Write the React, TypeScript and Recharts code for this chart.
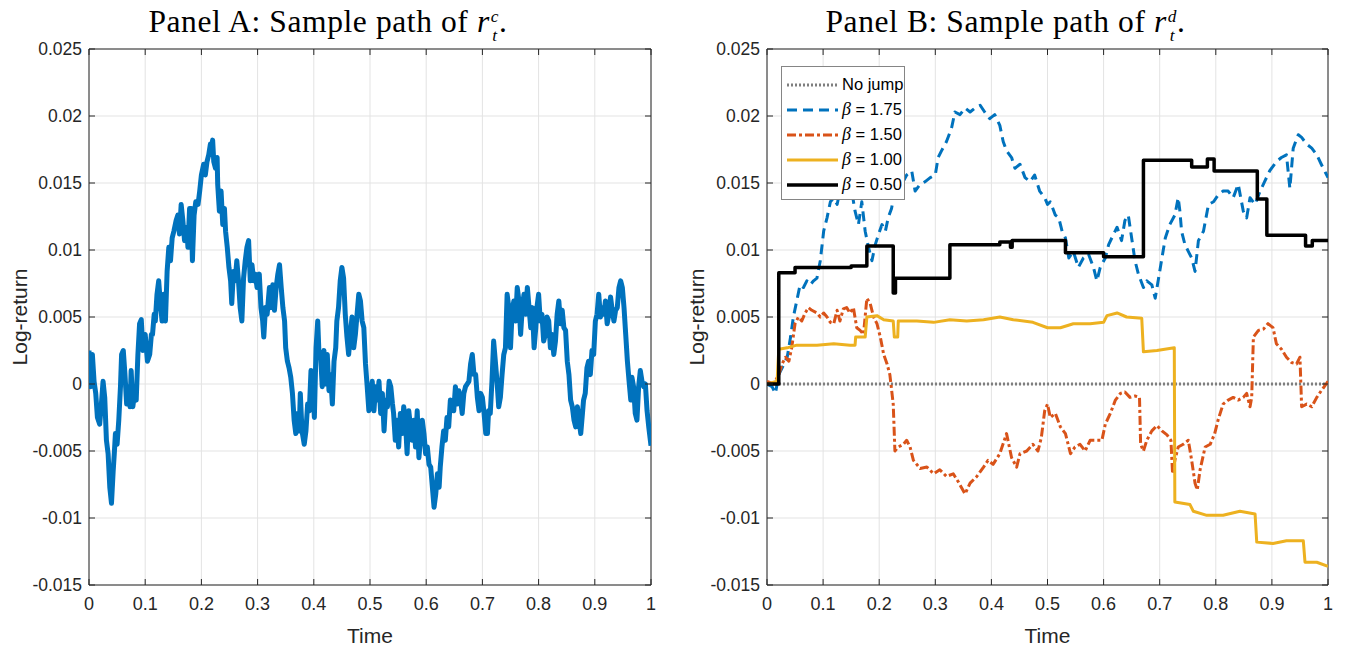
import { LineChart, Line, XAxis, YAxis, CartesianGrid, ReferenceArea, Legend } from 'recharts'

const timeTicks = [0, 0.1, 0.2, 0.3, 0.4, 0.5, 0.6, 0.7, 0.8, 0.9, 1]
const returnTicks = [-0.015, -0.01, -0.005, 0, 0.005, 0.01, 0.015, 0.02, 0.025]

// Panel A: continuous part [time, log-return]
const continuousPath = [
  [0, 0.0025], [0.003, -0.0002], [0.006, 0.0022], [0.009, 0.0002], [0.012, -0.0007], [0.015, -0.0025],
  [0.019, -0.003], [0.022, -0.0015], [0.025, 0.0002], [0.028, -0.001], [0.031, -0.0042], [0.034, -0.0052],
  [0.037, -0.0077], [0.04, -0.0089], [0.043, -0.0065], [0.045, -0.0052], [0.047, -0.0037], [0.05, -0.0045],
  [0.053, -0.0027], [0.056, -0.0002], [0.058, 0.0022], [0.061, 0.0025], [0.064, 0.0007], [0.067, -0.0015],
  [0.07, -0.0002], [0.073, -0.0017], [0.075, 0.001], [0.078, -0.0017], [0.081, -0.0007], [0.084, -0.0012],
  [0.087, 0.0022], [0.09, 0.0045], [0.093, 0.0048], [0.096, 0.0025], [0.1, 0.0037], [0.104, 0.0017],
  [0.108, 0.0022], [0.111, 0.0037], [0.113, 0.0037], [0.116, 0.0052], [0.118, 0.0047], [0.121, 0.0067],
  [0.124, 0.0077], [0.127, 0.006], [0.13, 0.0047], [0.133, 0.0067], [0.136, 0.0047], [0.139, 0.0084],
  [0.142, 0.0102], [0.145, 0.0092], [0.148, 0.0109], [0.151, 0.0114], [0.155, 0.0122], [0.158, 0.0126],
  [0.161, 0.0112], [0.164, 0.0134], [0.167, 0.0122], [0.17, 0.0107], [0.174, 0.0117], [0.176, 0.0102],
  [0.179, 0.0131], [0.182, 0.0131], [0.184, 0.0092], [0.187, 0.0126], [0.19, 0.0136], [0.194, 0.0134],
  [0.197, 0.0144], [0.2, 0.0156], [0.204, 0.0164], [0.207, 0.0156], [0.21, 0.0166], [0.213, 0.0171],
  [0.216, 0.0179], [0.217, 0.0174], [0.22, 0.0182], [0.222, 0.0166], [0.225, 0.0161], [0.228, 0.0169],
  [0.229, 0.0149], [0.232, 0.0129], [0.235, 0.0144], [0.238, 0.0119], [0.241, 0.0131], [0.243, 0.0114],
  [0.246, 0.0102], [0.249, 0.0087], [0.252, 0.0077], [0.254, 0.006], [0.257, 0.0084], [0.26, 0.0077],
  [0.263, 0.0092], [0.266, 0.0077], [0.269, 0.0057], [0.272, 0.0047], [0.275, 0.0079], [0.278, 0.0092],
  [0.281, 0.0102], [0.284, 0.0107], [0.287, 0.0077], [0.29, 0.0089], [0.293, 0.0077], [0.296, 0.0082],
  [0.299, 0.0072], [0.303, 0.0082], [0.306, 0.0057], [0.309, 0.0047], [0.311, 0.0035], [0.314, 0.0057],
  [0.317, 0.0052], [0.321, 0.0072], [0.324, 0.0057], [0.327, 0.0074], [0.33, 0.0055], [0.333, 0.0072],
  [0.336, 0.0082], [0.339, 0.0089], [0.342, 0.0072], [0.345, 0.0057], [0.348, 0.0047], [0.35, 0.0027],
  [0.353, 0.0017], [0.356, 0.0012], [0.359, 0.0005], [0.362, -0.0007], [0.365, -0.0027], [0.368, -0.0037],
  [0.371, -0.0022], [0.374, -0.0035], [0.376, -0.0007], [0.379, -0.0035], [0.383, -0.0045], [0.386, -0.0035],
  [0.389, -0.0015], [0.392, -0.002], [0.395, 0.001], [0.398, 0.0002], [0.401, -0.0025], [0.404, 0.0027],
  [0.407, 0.0047], [0.409, 0.0025], [0.412, 0.0022], [0.415, -0.0002], [0.418, 0.0025], [0.421, 0],
  [0.424, 0.0022], [0.427, -0.0005], [0.43, 0.0007], [0.433, -0.0015], [0.436, 0.0017], [0.439, 0.0027],
  [0.441, 0.0047], [0.444, 0.0057], [0.447, 0.0077], [0.45, 0.0087], [0.453, 0.0079], [0.456, 0.0052],
  [0.459, 0.0035], [0.462, 0.0022], [0.465, 0.0037], [0.468, 0.005], [0.471, 0.0027], [0.474, 0.0037],
  [0.477, 0.0052], [0.48, 0.0067], [0.483, 0.0062], [0.486, 0.0047], [0.489, 0.0042], [0.492, 0.0015],
  [0.495, -0.0002], [0.498, -0.002], [0.501, -0.0007], [0.504, 0.0002], [0.507, -0.002], [0.51, -0.0002],
  [0.513, -0.0012], [0.516, 0.0002], [0.519, -0.0022], [0.522, -0.0007], [0.525, -0.0035], [0.528, -0.0012],
  [0.531, -0.0017], [0.534, 0.0002], [0.537, -0.0002], [0.54, -0.0015], [0.542, -0.0022], [0.545, -0.0042],
  [0.548, -0.0027], [0.551, -0.0047], [0.554, -0.0022], [0.557, -0.0037], [0.56, -0.0017], [0.563, -0.0027],
  [0.566, -0.0052], [0.569, -0.002], [0.572, -0.0032], [0.575, -0.0042], [0.578, -0.0027], [0.581, -0.0047],
  [0.584, -0.002], [0.587, -0.0055], [0.59, -0.004], [0.593, -0.0027], [0.596, -0.0037], [0.599, -0.0052],
  [0.602, -0.0047], [0.605, -0.006], [0.608, -0.0062], [0.611, -0.0077], [0.614, -0.0092], [0.617, -0.0082],
  [0.62, -0.0067], [0.623, -0.0077], [0.625, -0.0062], [0.628, -0.0047], [0.631, -0.0035], [0.634, -0.0042],
  [0.637, -0.0025], [0.64, -0.0032], [0.643, -0.0012], [0.646, -0.0015], [0.649, -0.002], [0.652, -0.0002],
  [0.655, -0.0015], [0.658, -0.0005], [0.661, -0.001], [0.664, -0.0022], [0.667, -0.0007], [0.67, -0.0002],
  [0.673, 0], [0.676, 0.0002], [0.679, 0.0015], [0.682, 0.0022], [0.685, 0.0007], [0.688, 0.0007],
  [0.691, -0.001], [0.694, -0.002], [0.697, -0.0007], [0.7, -0.001], [0.703, -0.0022], [0.706, -0.0037],
  [0.709, -0.0037], [0.711, -0.002], [0.714, -0.0022], [0.717, 0.0002], [0.72, 0.0032], [0.723, 0.0017],
  [0.726, 0.0002], [0.729, -0.0017], [0.732, -0.001], [0.735, 0.0007], [0.738, 0.0022], [0.741, 0.0027],
  [0.744, 0.0067], [0.747, 0.0057], [0.75, 0.0027], [0.753, 0.0055], [0.756, 0.0062], [0.759, 0.0047],
  [0.762, 0.0072], [0.765, 0.0062], [0.768, 0.0037], [0.771, 0.0057], [0.774, 0.0067], [0.777, 0.0052],
  [0.78, 0.0072], [0.783, 0.0057], [0.786, 0.0042], [0.789, 0.0057], [0.792, 0.0027], [0.795, 0.0042],
  [0.797, 0.0057], [0.8, 0.0067], [0.803, 0.0047], [0.806, 0.0052], [0.809, 0.0032], [0.812, 0.0037],
  [0.815, 0.005], [0.818, 0.0047], [0.821, 0.0027], [0.824, 0.0037], [0.827, 0.0022], [0.83, 0.0032],
  [0.833, 0.0052], [0.836, 0.0062], [0.839, 0.0045], [0.842, 0.0055], [0.845, 0.0042], [0.848, 0.004],
  [0.851, 0.0017], [0.854, 0.0007], [0.857, -0.0012], [0.86, -0.0017], [0.863, -0.0027], [0.866, -0.0032],
  [0.869, -0.0017], [0.872, -0.0027], [0.875, -0.0037], [0.878, -0.0022], [0.88, -0.0012], [0.883, -0.0007],
  [0.886, 0.0012], [0.889, 0.0017], [0.892, 0.0007], [0.895, 0.0025], [0.898, 0.0022], [0.901, 0.0047],
  [0.904, 0.0052], [0.907, 0.0067], [0.91, 0.005], [0.913, 0.0057], [0.916, 0.0052], [0.919, 0.0062],
  [0.922, 0.0045], [0.925, 0.0052], [0.928, 0.0065], [0.931, 0.0055], [0.934, 0.0047], [0.937, 0.0055],
  [0.94, 0.0057], [0.943, 0.0072], [0.946, 0.0077], [0.949, 0.0072], [0.952, 0.0057], [0.955, 0.0037],
  [0.958, 0.0017], [0.961, 0.0002], [0.964, -0.0012], [0.966, 0.0005], [0.969, -0.0002], [0.972, -0.0022],
  [0.975, -0.0027], [0.978, -0.0002], [0.981, 0.001], [0.984, 0.0002], [0.987, -0.0002], [0.99, 0],
  [0.993, -0.002], [0.996, -0.0032], [1, -0.0046],
]

// Panel B: paths with jumps, one list per beta
const noJumpPath = [[0, 0], [1, 0]]

const beta175Path = [
  [0, 0], [0.009, -0.0002], [0.015, -0.0007], [0.021, 0.0007], [0.027, 0.0012], [0.036, 0.002],
  [0.042, 0.0035], [0.047, 0.005], [0.053, 0.0062], [0.059, 0.0074], [0.065, 0.0072], [0.071, 0.0077],
  [0.077, 0.0074], [0.083, 0.0077], [0.089, 0.0079], [0.095, 0.0092], [0.101, 0.0114], [0.107, 0.0124],
  [0.113, 0.0136], [0.119, 0.0139], [0.125, 0.0134], [0.13, 0.0144], [0.136, 0.0139], [0.145, 0.0149],
  [0.151, 0.0144], [0.157, 0.0129], [0.163, 0.0119], [0.169, 0.0136], [0.175, 0.0114], [0.181, 0.0102],
  [0.187, 0.0092], [0.193, 0.0104], [0.199, 0.0112], [0.205, 0.0119], [0.211, 0.0114], [0.216, 0.0124],
  [0.222, 0.0131], [0.228, 0.0144], [0.234, 0.0154], [0.24, 0.0149], [0.249, 0.0156], [0.258, 0.0159],
  [0.264, 0.0144], [0.273, 0.0149], [0.282, 0.0151], [0.291, 0.0154], [0.3, 0.0156], [0.305, 0.0169],
  [0.311, 0.0174], [0.32, 0.0181], [0.329, 0.0191], [0.335, 0.0203], [0.344, 0.0201], [0.353, 0.0206],
  [0.362, 0.0203], [0.371, 0.0206], [0.38, 0.0208], [0.388, 0.0203], [0.397, 0.0198], [0.406, 0.0201],
  [0.415, 0.0193], [0.421, 0.0181], [0.427, 0.0174], [0.436, 0.0169], [0.442, 0.0161], [0.451, 0.0164],
  [0.46, 0.0154], [0.469, 0.0151], [0.477, 0.0156], [0.486, 0.0144], [0.495, 0.0139], [0.5, 0.0134],
  [0.505, 0.0136], [0.514, 0.0126], [0.52, 0.0124], [0.526, 0.0114], [0.532, 0.0109], [0.538, 0.0094],
  [0.546, 0.0099], [0.555, 0.0087], [0.564, 0.0094], [0.573, 0.0097], [0.582, 0.0087], [0.588, 0.0077],
  [0.594, 0.0087], [0.603, 0.0094], [0.609, 0.0104], [0.618, 0.0112], [0.624, 0.0117], [0.632, 0.0107],
  [0.638, 0.0122], [0.644, 0.0126], [0.65, 0.0109], [0.656, 0.0092], [0.662, 0.0082], [0.671, 0.0072],
  [0.677, 0.0077], [0.686, 0.0074], [0.692, 0.0064], [0.698, 0.0079], [0.704, 0.0094], [0.71, 0.0109],
  [0.718, 0.0119], [0.727, 0.0126], [0.733, 0.0139], [0.736, 0.0129], [0.739, 0.0114], [0.745, 0.0104],
  [0.751, 0.0099], [0.757, 0.0094], [0.763, 0.0084], [0.769, 0.0107], [0.778, 0.0114], [0.787, 0.0134],
  [0.796, 0.0136], [0.804, 0.0141], [0.813, 0.0144], [0.822, 0.0144], [0.831, 0.0139], [0.84, 0.0149],
  [0.849, 0.0129], [0.855, 0.0124], [0.861, 0.0139], [0.87, 0.0134], [0.879, 0.0144], [0.887, 0.0151],
  [0.896, 0.0159], [0.908, 0.0166], [0.917, 0.0169], [0.926, 0.0171], [0.932, 0.0146], [0.938, 0.0176],
  [0.947, 0.0186], [0.953, 0.0184], [0.962, 0.0179], [0.971, 0.0176], [0.98, 0.0171], [0.988, 0.0164],
  [0.994, 0.0159], [1, 0.0154],
]

const beta150Path = [
  [0, 0.0002], [0.012, 0], [0.021, 0.0007], [0.027, 0.0015], [0.033, 0.002], [0.039, 0.0017],
  [0.044, 0.0027], [0.05, 0.0045], [0.056, 0.005], [0.062, 0.0047], [0.068, 0.0053], [0.074, 0.0057],
  [0.08, 0.0055], [0.089, 0.0053], [0.095, 0.005], [0.101, 0.0053], [0.107, 0.005], [0.113, 0.0046],
  [0.119, 0.0045], [0.125, 0.0055], [0.13, 0.0047], [0.136, 0.0056], [0.142, 0.0057], [0.148, 0.0053],
  [0.154, 0.0057], [0.16, 0.0042], [0.166, 0.004], [0.172, 0.0037], [0.178, 0.0064], [0.184, 0.006],
  [0.19, 0.005], [0.196, 0.0045], [0.202, 0.0035], [0.208, 0.0022], [0.214, 0.0015], [0.219, 0.0007],
  [0.225, -0.0015], [0.228, -0.005], [0.234, -0.0047], [0.243, -0.0045], [0.249, -0.0042], [0.255, -0.0047],
  [0.261, -0.0057], [0.273, -0.0063], [0.285, -0.0062], [0.297, -0.0067], [0.308, -0.0064], [0.32, -0.0069],
  [0.332, -0.0067], [0.341, -0.0073], [0.353, -0.0082], [0.362, -0.0074], [0.374, -0.0069], [0.386, -0.0062],
  [0.394, -0.0057], [0.403, -0.006], [0.415, -0.0052], [0.427, -0.0037], [0.436, -0.0055], [0.445, -0.0062],
  [0.451, -0.0052], [0.463, -0.005], [0.474, -0.0045], [0.483, -0.005], [0.489, -0.004], [0.495, -0.002],
  [0.5, -0.0015], [0.505, -0.0025], [0.514, -0.0022], [0.523, -0.0032], [0.532, -0.0037], [0.541, -0.0052],
  [0.549, -0.0047], [0.558, -0.0045], [0.567, -0.005], [0.576, -0.0042], [0.588, -0.0042], [0.597, -0.0042],
  [0.603, -0.003], [0.612, -0.0022], [0.621, -0.0012], [0.63, -0.0007], [0.638, -0.0006], [0.647, -0.001],
  [0.656, -0.0009], [0.664, -0.001], [0.666, -0.0045], [0.671, -0.005], [0.677, -0.0042], [0.686, -0.0035],
  [0.695, -0.0031], [0.704, -0.0035], [0.713, -0.0038], [0.72, -0.0042], [0.723, -0.0067], [0.727, -0.0057],
  [0.733, -0.0047], [0.742, -0.0045], [0.751, -0.0042], [0.757, -0.0057], [0.763, -0.0074], [0.767, -0.0079],
  [0.772, -0.0064], [0.781, -0.0047], [0.79, -0.0045], [0.798, -0.0037], [0.804, -0.0027], [0.813, -0.0015],
  [0.822, -0.0012], [0.831, -0.001], [0.84, -0.0012], [0.849, -0.001], [0.855, -0.0007], [0.861, -0.0017],
  [0.864, -0.001], [0.867, 0.0035], [0.876, 0.004], [0.885, 0.0041], [0.893, 0.0045], [0.902, 0.0042],
  [0.908, 0.003], [0.917, 0.0026], [0.926, 0.002], [0.935, 0.0016], [0.944, 0.0015], [0.95, 0.002],
  [0.953, -0.0017], [0.962, -0.0015], [0.971, -0.0017], [0.98, -0.001], [0.988, -0.0005], [1, 0.0002],
]

const beta100Path = [
  [0, 0], [0.018, 0.0002], [0.021, 0.0026], [0.036, 0.0027], [0.053, 0.0029], [0.089, 0.0029],
  [0.119, 0.003], [0.148, 0.0029], [0.157, 0.0029], [0.158, 0.0035], [0.175, 0.0035], [0.178, 0.005],
  [0.196, 0.0051], [0.208, 0.0048], [0.225, 0.0047], [0.227, 0.0035], [0.233, 0.0035], [0.234, 0.0047],
  [0.267, 0.0047], [0.297, 0.0046], [0.326, 0.0048], [0.356, 0.0047], [0.386, 0.0048], [0.415, 0.005],
  [0.439, 0.0048], [0.474, 0.0046], [0.5, 0.0042], [0.523, 0.0042], [0.546, 0.0045], [0.576, 0.0045],
  [0.6, 0.0046], [0.606, 0.0051], [0.624, 0.0053], [0.641, 0.005], [0.668, 0.0049], [0.671, 0.0024],
  [0.695, 0.0025], [0.726, 0.0027], [0.727, -0.0088], [0.754, -0.009], [0.76, -0.0095], [0.784, -0.0098],
  [0.813, -0.0098], [0.843, -0.0095], [0.87, -0.0097], [0.873, -0.0118], [0.902, -0.0119], [0.926, -0.0117],
  [0.956, -0.0117], [0.959, -0.0133], [0.98, -0.0133], [1, -0.0136],
]

const beta050Path = [
  [0, 0], [0.021, 0.0083], [0.05, 0.0087], [0.15, 0.0088], [0.178, 0.0103], [0.225, 0.0068],
  [0.229, 0.0079], [0.326, 0.0104], [0.415, 0.0106], [0.434, 0.0102], [0.437, 0.0107], [0.532, 0.0098],
  [0.6, 0.0095], [0.671, 0.0167], [0.757, 0.0162], [0.785, 0.0168], [0.797, 0.0159], [0.874, 0.0138],
  [0.891, 0.0111], [0.96, 0.0103], [0.972, 0.0107], [1, 0.0107],
]

const toRows = (pts: number[][]) => pts.map(([t, v]) => ({ t, v }))

const jumpSeries = [
  { key: 'nojump', beta: null, data: noJumpPath, color: '#7f7f7f', dash: '2 2', width: 3, type: 'linear' },
  { key: 'b175', beta: '1.75', data: beta175Path, color: '#0072BD', dash: '10 6', width: 3, type: 'linear' },
  { key: 'b150', beta: '1.50', data: beta150Path, color: '#D95319', dash: '9 3 3 3', width: 3, type: 'linear' },
  { key: 'b100', beta: '1.00', data: beta100Path, color: '#EDB120', dash: undefined, width: 3, type: 'linear' },
  { key: 'b050', beta: '0.50', data: beta050Path, color: '#000000', dash: undefined, width: 3.5, type: 'stepAfter' },
]

const AXIS = '#262626'
const GRID = '#e3e3e3'
const SANS = "'Liberation Sans', Arial, sans-serif"
const SERIF = "'Liberation Serif', 'DejaVu Serif', serif"

const CHART_W = 677
const CHART_H = 650
const PLOT_TOP = 49
const PLOT_H = 536

function TimeTick(props: any) {
  const { x, y, payload } = props
  const axisY = y - 12
  return (
    <g>
      <line x1={x} x2={x} y1={axisY} y2={axisY - 6} stroke={AXIS} />
      <line x1={x} x2={x} y1={axisY - PLOT_H} y2={axisY - PLOT_H + 6} stroke={AXIS} />
      <text x={x} y={y} dy="0.71em" textAnchor="middle" fill={AXIS} fontSize={18} fontFamily={SANS}>
        {payload.value}
      </text>
    </g>
  )
}

function ReturnTick(props: any) {
  const { x, y, payload, plotWidth } = props
  const axisX = x + 7
  return (
    <g>
      <line x1={axisX} x2={axisX + 6} y1={y} y2={y} stroke={AXIS} />
      <line x1={axisX + plotWidth} x2={axisX + plotWidth - 6} y1={y} y2={y} stroke={AXIS} />
      <text x={x} y={y} dy="0.355em" textAnchor="end" fill={AXIS} fontSize={17.5} fontFamily={SANS}>
        {payload.value}
      </text>
    </g>
  )
}

// grid, axes and box shared by both panels
function frame(plotWidth: number) {
  return [
    <CartesianGrid key="grid" stroke={GRID} strokeWidth={1} />,
    <XAxis
      key="x"
      type="number"
      dataKey="t"
      domain={[0, 1]}
      ticks={timeTicks}
      interval={0}
      height={30}
      tickSize={0}
      tickMargin={12}
      axisLine={false}
      tickLine={false}
      allowDataOverflow
      tick={(p: any) => <TimeTick {...p} />}
    />,
    <YAxis
      key="y"
      type="number"
      domain={[-0.015, 0.025]}
      ticks={returnTicks}
      interval={0}
      width={50}
      tickSize={0}
      tickMargin={7}
      axisLine={false}
      tickLine={false}
      allowDataOverflow
      tick={(p: any) => <ReturnTick {...p} plotWidth={plotWidth} />}
    />,
    <ReferenceArea key="box" x1={0} x2={1} y1={-0.015} y2={0.025} fill="none" stroke={AXIS} strokeWidth={1} />,
  ]
}

// r with stacked superscript / subscript, as in LaTeX r_t^c
function MathR({ sup }: { sup: string }) {
  return (
    <span>
      <i>r</i>
      <span
        style={{
          display: 'inline-flex', flexDirection: 'column', fontSize: '0.55em', lineHeight: 1.12,
          verticalAlign: '0.6em', marginLeft: 1, fontStyle: 'italic',
        }}
      >
        <span>{sup}</span>
        <span>t</span>
      </span>
      .
    </span>
  )
}

function Labels({ plotLeft, plotWidth, panel, sup }: any) {
  const center = plotLeft + plotWidth / 2
  return (
    <>
      <div
        style={{
          position: 'absolute', top: 5, left: center - 42 - 300, width: 600, textAlign: 'center',
          fontFamily: SERIF, fontSize: 31.5, lineHeight: '34px', letterSpacing: 0.6, color: '#000', whiteSpace: 'nowrap',
        }}
      >
        Panel {panel}: Sample path of <MathR sup={sup} />
      </div>
      <div
        style={{
          position: 'absolute', left: 20, top: PLOT_TOP + PLOT_H / 2, transform: 'translate(-50%, -50%) rotate(-90deg)',
          fontFamily: SANS, fontSize: 21, color: AXIS, whiteSpace: 'nowrap',
        }}
      >
        Log-return
      </div>
      <div
        style={{
          position: 'absolute', left: center, top: 636, transform: 'translate(-50%, -50%)',
          fontFamily: SANS, fontSize: 21, color: AXIS, whiteSpace: 'nowrap',
        }}
      >
        Time
      </div>
    </>
  )
}

function JumpLegend() {
  return (
    <div
      style={{
        width: 124, height: 134, boxSizing: 'border-box', border: '1px solid #858585', background: '#fff',
        paddingTop: 5,
      }}
    >
      {jumpSeries.map((s) => (
        <div key={s.key} style={{ display: 'flex', alignItems: 'center', height: 25 }}>
          <svg width={51} height={8} style={{ marginLeft: 5, marginRight: 4 }}>
            <line x1={0} x2={51} y1={4} y2={4} stroke={s.color} strokeWidth={s.width} strokeDasharray={s.dash} />
          </svg>
          <span style={{ fontFamily: SANS, fontSize: 16.5, color: '#000', whiteSpace: 'nowrap' }}>
            {s.beta ? (
              <>
                <i style={{ fontFamily: SERIF, fontSize: 18 }}>β</i> = {s.beta}
              </>
            ) : (
              'No jump'
            )}
          </span>
        </div>
      ))}
    </div>
  )
}

function PanelA() {
  const plotLeft = 89
  const plotWidth = 562
  return (
    <div style={{ position: 'absolute', left: 0, top: 0, width: CHART_W, height: CHART_H }}>
      <LineChart
        width={CHART_W}
        height={CHART_H}
        data={toRows(continuousPath)}
        margin={{ top: PLOT_TOP, right: CHART_W - plotLeft - plotWidth, bottom: 35, left: plotLeft - 50 }}
      >
        {frame(plotWidth)}
        <Line
          type="linear"
          dataKey="v"
          stroke="#0072BD"
          strokeWidth={5}
          strokeLinejoin="round"
          dot={false}
          isAnimationActive={false}
        />
      </LineChart>
      <Labels plotLeft={plotLeft} plotWidth={plotWidth} panel="A" sup="c" />
    </div>
  )
}

function PanelB() {
  const plotLeft = 90
  const plotWidth = 561
  return (
    <div style={{ position: 'absolute', left: CHART_W, top: 0, width: CHART_W, height: CHART_H }}>
      <LineChart
        width={CHART_W}
        height={CHART_H}
        margin={{ top: PLOT_TOP, right: CHART_W - plotLeft - plotWidth, bottom: 35, left: plotLeft - 50 }}
      >
        {frame(plotWidth)}
        {jumpSeries.map((s) => (
          <Line
            key={s.key}
            data={toRows(s.data)}
            type={s.type as any}
            dataKey="v"
            stroke={s.color}
            strokeWidth={s.width}
            strokeDasharray={s.dash}
            strokeLinejoin="round"
            dot={false}
            isAnimationActive={false}
          />
        ))}
        <Legend
          layout="vertical"
          align="center"
          verticalAlign="middle"
          wrapperStyle={{ left: 104, top: 66, width: 'auto' }}
          content={() => <JumpLegend />}
        />
      </LineChart>
      <Labels plotLeft={plotLeft} plotWidth={plotWidth} panel="B" sup="d" />
    </div>
  )
}

export default function App() {
  return (
    <div style={{ position: 'absolute', left: 0, top: 0, width: 1354, height: 650, background: '#fff' }}>
      <PanelA />
      <PanelB />
    </div>
  )
}
